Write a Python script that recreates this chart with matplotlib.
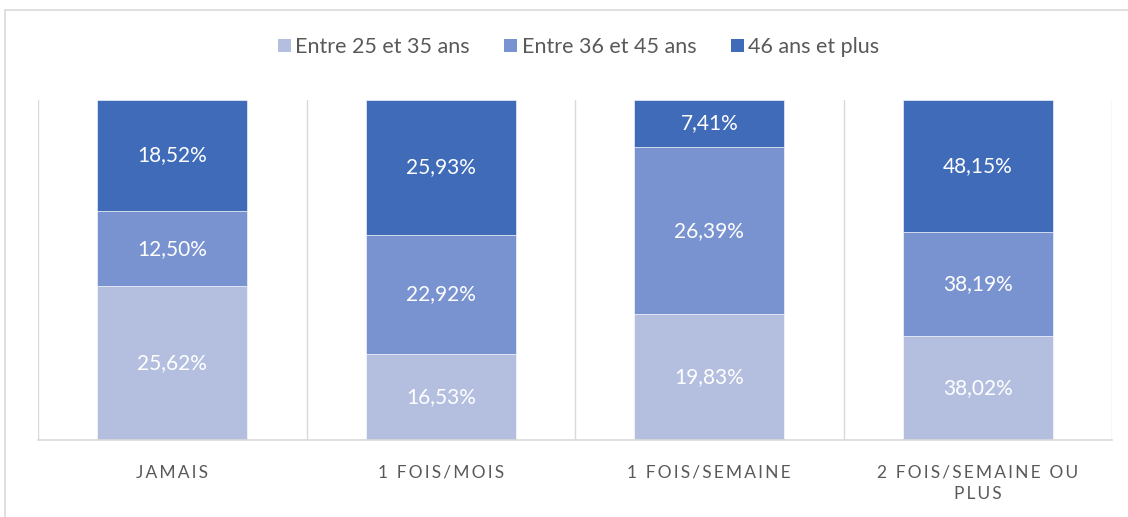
import numpy as np
import matplotlib.pyplot as plt
from matplotlib.patches import Rectangle, Patch

plt.rcParams['font.family'] = ['Lato', 'DejaVu Sans']

# données (empilé 100 %)
categories = ["JAMAIS", "1 FOIS/MOIS", "1 FOIS/SEMAINE", "2 FOIS/SEMAINE OU\nPLUS"]
series_names = ["Entre 25 et 35 ans", "Entre 36 et 45 ans", "46 ans et plus"]
age_25_35 = [25.62, 16.53, 19.83, 38.02]
age_36_45 = [12.50, 22.92, 26.39, 38.19]
age_46_plus = [18.52, 25.93, 7.41, 48.15]

colors = ["#b4bfe0", "#7993d0", "#3f6bb9"]

data = np.array([age_25_35, age_36_45, age_46_plus])
totals = data.sum(axis=0)
shares = data / totals

fig = plt.figure(figsize=(11.28, 5.17), dpi=100)
fig.patches.append(Rectangle((5 / 1128, -0.1), 1.2, 1 - 10 / 517 + 0.1,
                             transform=fig.transFigure, fill=False,
                             edgecolor="#d9d9d9", linewidth=1.2))
ax = fig.add_axes([38 / 1128, 1 - 440 / 517, (1112 - 38) / 1128, 340 / 517])

x = np.arange(len(categories))
bottom = np.zeros(len(categories))
for i in range(3):
    ax.bar(x, shares[i], 0.56, bottom=bottom, color=colors[i],
           edgecolor="white", linewidth=0.4, zorder=2)
    for j in range(len(categories)):
        txt = "{:.2f}%".format(data[i][j]).replace(".", ",")
        ax.text(x[j], bottom[j] + shares[i][j] / 2, txt, ha="center", va="center",
                color="white", fontsize=15, zorder=3)
    bottom += shares[i]

ax.set_xlim(-0.5, len(categories) - 0.5)
ax.set_ylim(0, 1)
ax.set_yticks([])

# lignes verticales entre catégories
for b in np.arange(-0.5, len(categories), 1):
    ax.axvline(b, color="#d9d9d9", linewidth=1, zorder=1)

for s in ["top", "left", "right"]:
    ax.spines[s].set_visible(False)
ax.spines["bottom"].set_color("#d9d9d9")
ax.spines["bottom"].set_linewidth(1.2)


def spaced(s):
    # espacement des lettres comme dans l'original
    return "\n".join("\u2009".join(line) for line in s.split("\n"))


ax.set_xticks(x)
ax.set_xticklabels([spaced(c) for c in categories], fontsize=12.5, color="#595959",
                   linespacing=1.35, va="top")
ax.tick_params(axis="x", length=0, pad=18)

handles = [Patch(facecolor=c) for c in colors]
fig.legend(handles, series_names, loc="center", bbox_to_anchor=(0.513, 1 - 47 / 517),
           ncol=3, frameon=False, fontsize=15.5, handlelength=0.6, handleheight=0.6,
           handletextpad=0.2, columnspacing=1.6, labelcolor="#595959")

fig.savefig("out.png", dpi=100)
